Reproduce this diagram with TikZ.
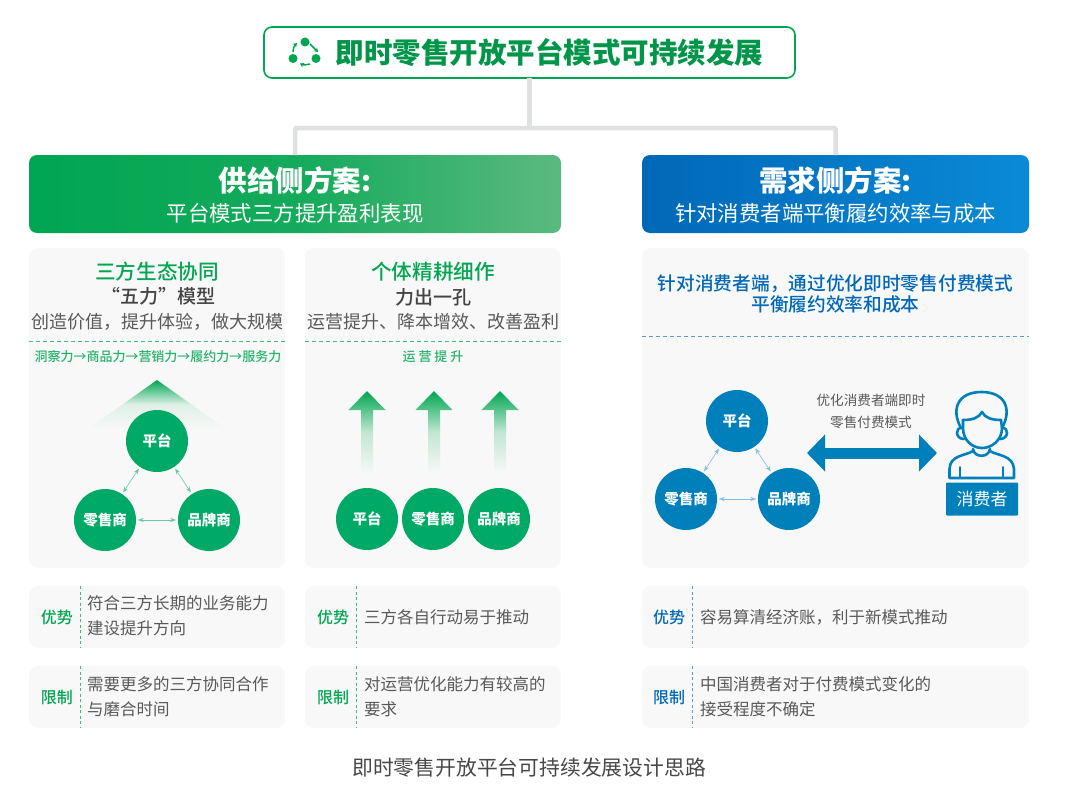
\documentclass[tikz,border=0pt]{standalone}
\usepackage{fontspec}
\setmainfont{Noto Sans CJK SC}
\newfontface\medfont{Noto Sans CJK SC Medium}
\usepackage{xcolor}
\definecolor{cg}{HTML}{00A651}
\definecolor{cj}{HTML}{5BB97F}
\definecolor{ch}{HTML}{00A966}
\definecolor{cb}{HTML}{0068B7}
\definecolor{cc}{HTML}{0A8AD6}
\definecolor{ci}{HTML}{0080BB}
\definecolor{cp}{HTML}{F8F8F8}
\definecolor{cl}{HTML}{DFE1E0}
\definecolor{ct}{HTML}{595959}
\usetikzlibrary{arrows.meta,positioning,shadings}
\newcommand{\fsz}[1]{\fontsize{#1}{#1}\selectfont}

\begin{document}
\begin{tikzpicture}[
  x=1pt, y=-1pt, >=Stealth,
  every node/.style={inner sep=0pt, outer sep=0pt},
  titlebox/.style={rectangle, draw=cg, line width=1.6pt, fill=white, rounded corners=8pt, minimum width=531pt, minimum height=51pt},
  headg/.style={rectangle, rounded corners=8pt, left color=cg, right color=cj, middle color=cg!78!cj, minimum width=532pt, minimum height=78pt},
  headb/.style={rectangle, rounded corners=8pt, left color=cb, right color=cc, minimum width=387pt, minimum height=78pt},
  headtext/.style={align=center, text=white},
  panel/.style={rectangle, fill=cp, rounded corners=9pt, minimum height=320pt},
  minibox/.style={rectangle, fill=cp, rounded corners=9pt, minimum height=62pt},
  trunk/.style={draw=cl, line width=4.5pt, rounded corners=1pt},
  hubg/.style={circle, fill=ch, text=white, minimum size=62pt, font=\fsz{14.5}\bfseries},
  hubb/.style={circle, fill=ci, text=white, minimum size=62pt, font=\fsz{14.5}\bfseries},
  linkg/.style={<->, draw=ch!60!white, line width=0.6pt, shorten >=2pt, shorten <=2pt},
  linkb/.style={<->, draw=ci!50!white, line width=0.6pt, shorten >=2pt, shorten <=2pt},
  cutg/.style={draw=cg!75!white, line width=0.8pt, dash pattern=on 3.5pt off 3.5pt},
  cutb/.style={draw=cb!65!white, line width=0.8pt, dash pattern=on 3.5pt off 3.5pt},
  leadg/.style={text=cg, font=\fsz{20.6}\medfont},
  leadb/.style={text=cb, align=center},
  second/.style={text=ct!75!black, font=\fsz{19}\medfont},
  third/.style={text=ct, font=\fsz{18}},
  chain/.style={text=cg!85!white, font=\fsz{13}\medfont},
  tagg/.style={text=cg, font=\fsz{16}\medfont},
  tagb/.style={text=cb, font=\fsz{16}\medfont},
  note/.style={anchor=west, align=left, text=ct, font=\fontsize{16.5}{25}\selectfont},
  boost/.style={top color=cg, bottom color=cp, middle color=cg!22!cp},
  roof/.style={top color=cg, bottom color=cp, middle color=cg!10!cp},
  cycler/.style={draw=cg, line width=1.5pt, ->, >={Stealth[length=4pt,width=5pt]}},
  person/.style={draw=ci, line width=2.6pt, line join=round, line cap=round},
]
  \useasboundingbox (0,0) rectangle (1080,792);

  % top
  \node[titlebox] (goal) at (529.5,52.5) {};
  \node[text=cg!90!black, font=\fsz{28.5}\bfseries] (goaltext) at (549.5,53) {即时零售开放平台模式可持续发展};
  \fill[cg] (305,42) circle (4.5);
  \fill[cg] (293,58.5) circle (4.5);
  \fill[cg] (316,58.5) circle (4.5);
  \draw[cycler] (310,44) -- (318,52);
  \draw[cycler] (310,64) .. controls (307,65) and (303,65) .. (300,63.5);
  \draw[cycler] (293,52) .. controls (293,48) and (295,45) .. (297,43);

  % heads
  \node[headg] (supply) at (295,194) {};
  \node[headb, right=81pt of supply] (demand) {};
  \coordinate (joint) at (529.5,128);
  \node[headtext, font=\fsz{28.5}\bfseries] (supplyhead) at (295,180) {供给侧方案:};
  \node[headtext, font=\fsz{21.4}] (supplysub) at (295,213) {平台模式三方提升盈利表现};
  \node[headtext, font=\fsz{28.5}\bfseries] (demandhead) at (835.5,180) {需求侧方案:};
  \node[headtext, font=\fsz{21.4}] (demandsub) at (835.5,213) {针对消费者端平衡履约效率与成本};
  \draw[trunk] (goal.south) -- (joint);
  \draw[trunk] (supply.north) |- (joint) -| (demand.north);

  % panels
  \node[panel, minimum width=256pt, below=15pt of supply.south west, anchor=north west] (panela) {};
  \node[panel, minimum width=256pt, right=20pt of panela] (panelb) {};
  \node[panel, minimum width=387pt, below=15pt of demand] (panelc) {};

  % panel a
  \node[leadg] (ecotitle) at (157,272) {三方生态协同};
  \node[second] (ecomodel) at (158,296) {“五力”模型};
  \node[third] (ecogoal) at (157,322) {创造价值，提升体验，做大规模};
  \draw[cutg] (29,341) -- (285,341);
  \node[chain] (ecochain) at (158,357) {洞察力→商品力→营销力→履约力→服务力};
  \shade[roof] (157,380) -- (226,429) -- (88,429) -- cycle;
  \node[hubg] (platg) at (157,441) {平台};
  \node[hubg, below left=79pt and 52pt of platg.center, anchor=center] (retailg) {零售商};
  \node[hubg, right=42pt of retailg] (brandg) {品牌商};
  \draw[linkg] (platg) -- (retailg);
  \draw[linkg] (platg) -- (brandg);
  \draw[linkg] (retailg) -- (brandg);

  % panel b
  \node[leadg] (solotitle) at (433,272) {个体精耕细作};
  \node[second] (solomodel) at (433,297) {力出一孔};
  \node[third] (sologoal) at (433,322) {运营提升、降本增效、改善盈利};
  \draw[cutg] (305,341) -- (561,341);
  \node[chain] (soloup) at (433,357) {运 营 提 升};
  \shade[boost] (367,391) -- (385.5,410) -- (373,410) -- (373,473) -- (361,473) -- (361,410) -- (348.5,410) -- cycle;
  \shade[boost] (434,391) -- (452.5,410) -- (440,410) -- (440,473) -- (428,473) -- (428,410) -- (415.5,410) -- cycle;
  \shade[boost] (500,391) -- (518.5,410) -- (506,410) -- (506,473) -- (494,473) -- (494,410) -- (481.5,410) -- cycle;
  \node[hubg] (plats) at (367,519) {平台};
  \node[hubg, right=4pt of plats] (retails) {零售商};
  \node[hubg, right=4pt of retails] (brands) {品牌商};

  % panel c
  \node[leadb, font=\fontsize{18.7}{21}\selectfont\medfont] (paytitle) at (835.5,294) {针对消费者端，通过优化即时零售付费模式\\平衡履约效率和成本};
  \draw[cutb] (642,336) -- (1029,336);
  \node[hubb] (platb) at (737,421) {平台};
  \node[hubb, below left=78pt and 51pt of platb.center, anchor=center] (retailb) {零售商};
  \node[hubb, right=41pt of retailb] (brandb) {品牌商};
  \draw[linkb] (platb) -- (retailb);
  \draw[linkb] (platb) -- (brandb);
  \draw[linkb] (retailb) -- (brandb);
  \node[align=center, text=ct, font=\fontsize{13.6}{22}\selectfont] (paynote) at (871,411) {优化消费者端即时\\零售付费模式};
  \coordinate (swapl) at (807,453);
  \coordinate (swapr) at (937,453);
  \draw[draw=ci, line width=11pt, {Triangle[length=18pt,width=36pt]}-{Triangle[length=18pt,width=36pt]}] (swapl) -- (swapr);
  \node[rectangle, fill=ci, rounded corners=1pt, text=white, minimum width=72pt, minimum height=33pt, font=\fsz{17}] (consumer) at (982,499) {消费者};
  % person
  \draw[person] (961,428) .. controls (951,410) and (957,392) .. (981.5,392) .. controls (1006,392) and (1012,410) .. (1002,428);
  \draw[person] (963,420) .. controls (972,420) and (979,418) .. (982,412) .. controls (985,418) and (992,420) .. (1001,420);
  \draw[person] (963,420) -- (963,428) .. controls (963,440) and (972,448) .. (982,448) .. controls (992,448) and (1002,440) .. (1002,428) -- (1001,420);
  \draw[person] (962,428) .. controls (955,427) and (955,439) .. (964,439);
  \draw[person] (1002,428) .. controls (1009,427) and (1009,439) .. (1000,439);
  \draw[person] (973,449) .. controls (974,458) and (989,458) .. (990,449);
  \draw[person] (973,451) .. controls (965,456) and (950,455) .. (949.5,469) -- (949.5,478) -- (1014,478) -- (1014,469) .. controls (1013,455) and (998,456) .. (990,451);
  \draw[person, line width=1.8pt] (960,467) -- (960,478);
  \draw[person, line width=1.8pt] (1003,467) -- (1003,478);

  % plus and minus rows
  \node[minibox, minimum width=256pt, below=18pt of panela] (plusa) {};
  \node[minibox, minimum width=256pt, below=18pt of plusa] (minusa) {};
  \node[minibox, minimum width=256pt, below=18pt of panelb] (plusb) {};
  \node[minibox, minimum width=256pt, below=18pt of plusb] (minusb) {};
  \node[minibox, minimum width=387pt, below=18pt of panelc] (plusc) {};
  \node[minibox, minimum width=387pt, below=18pt of plusc] (minusc) {};
  \draw[cutg, dash pattern=on 3pt off 2.5pt] (80,586) -- (80,648);
  \draw[cutg, dash pattern=on 3pt off 2.5pt] (80,666) -- (80,728);
  \draw[cutg, dash pattern=on 3pt off 2.5pt] (356,586) -- (356,648);
  \draw[cutg, dash pattern=on 3pt off 2.5pt] (356,666) -- (356,728);
  \draw[cutb, dash pattern=on 3pt off 2.5pt] (692,586) -- (692,648);
  \draw[cutb, dash pattern=on 3pt off 2.5pt] (692,666) -- (692,728);
  \node[tagg] (plusatag) at (57,617) {优势};
  \node[tagg] (minusatag) at (57,697) {限制};
  \node[tagg] (plusbtag) at (333,617) {优势};
  \node[tagg] (minusbtag) at (333,697) {限制};
  \node[tagb] (plusctag) at (669,617) {优势};
  \node[tagb] (minusctag) at (669,697) {限制};
  \node[note] (plusatext) at (87,616) {符合三方长期的业务能力\\建设提升方向};
  \node[note] (minusatext) at (87,697) {需要更多的三方协同合作\\与磨合时间};
  \node[note] (plusbtext) at (364,617) {三方各自行动易于推动};
  \node[note] (minusbtext) at (364,697) {对运营优化能力有较高的\\要求};
  \node[note] (plusctext) at (700,617) {容易算清经济账，利于新模式推动};
  \node[note] (minusctext) at (700,697) {中国消费者对于付费模式变化的\\接受程度不确定};

  \node[text=ct!80!black, font=\fsz{20.8}] (caption) at (529,768) {即时零售开放平台可持续发展设计思路};
\end{tikzpicture}
\end{document}
